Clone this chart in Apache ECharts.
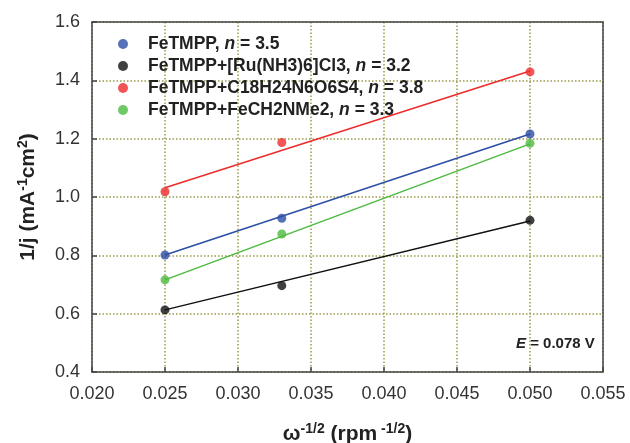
<!DOCTYPE html>
<html>
<head>
<meta charset="utf-8">
<script src="https://cdn.jsdelivr.net/npm/echarts@6/dist/echarts.min.js"></script>
<style>
  html, body { margin: 0; padding: 0; background: #fff; }
  #chart { width: 630px; height: 443px; }
</style>
</head>
<body>
<div id="chart"></div>
<script>
// 数据
const xValues = [0.025, 0.033, 0.05];
const seriesNames = ['FeTMPP', 'FeTMPP+[Ru(NH3)6]Cl3', 'FeTMPP+C18H24N6O6S4', 'FeTMPP+FeCH2NMe2'];
const nValues = ['3.5', '3.2', '3.8', '3.3'];
const blueY = [0.801, 0.927, 1.216];
const blackY = [0.613, 0.696, 0.920];
const redY = [1.018, 1.187, 1.429];
const greenY = [0.716, 0.873, 1.184];
// 拟合直线两端 (x = 0.025, 0.050)
const fitX = [0.025, 0.05];
const blueFit = [0.801, 1.216];
const blackFit = [0.613, 0.918];
const redFit = [1.032, 1.432];
const greenFit = [0.716, 1.182];

const colors = ['#2d4ea6', '#111111', '#ee2b2b', '#4cba40'];
const pointSets = [blueY, blackY, redY, greenY];
const fitSets = [blueFit, blackFit, redFit, greenFit];

const FONT = 'Liberation Sans';
const TEXT_COLOR = '#222';

const chart = echarts.init(document.getElementById('chart'));

const series = [];
fitSets.forEach((fit, i) => {
  series.push({
    name: seriesNames[i] + '-fit',
    type: 'line',
    data: fitX.map((x, k) => [x, fit[k]]),
    showSymbol: false,
    silent: true,
    lineStyle: { color: colors[i], width: 1.5 },
    z: 2
  });
});
pointSets.forEach((ys, i) => {
  series.push({
    name: seriesNames[i],
    type: 'scatter',
    data: xValues.map((x, k) => [x, ys[k]]),
    symbol: 'circle',
    symbolSize: 9,
    itemStyle: { color: colors[i] },
    z: 3
  });
});

const gridLine = { show: true, lineStyle: { color: '#9a9a48', type: [1.5, 2], width: 1.5 } };
const axisLine = { show: true, onZero: false, lineStyle: { color: '#444', width: 1.5 } };
const tick = { show: true, inside: true, length: 5, lineStyle: { color: '#444', width: 1.5 } };
// 轴标题（含上标）
const nameRich = {
  b: { fontFamily: FONT, fontWeight: 'bold', fontSize: 21, color: TEXT_COLOR, lineHeight: 24 },
  s: { fontFamily: FONT, fontWeight: 'bold', fontSize: 14, color: TEXT_COLOR, verticalAlign: 'top', lineHeight: 24 }
};
// 只画边框的轴
const frameAxis = {
  type: 'value',
  axisLine: axisLine,
  axisTick: { show: false },
  axisLabel: { show: false },
  splitLine: { show: false }
};

chart.setOption({
  animation: false,
  backgroundColor: '#fff',
  grid: { left: 92, right: 27, top: 22, bottom: 71, outerBoundsMode: 'none', containLabel: false },
  legend: {
    data: seriesNames,
    orient: 'vertical',
    left: 113,
    top: 30,
    icon: 'circle',
    itemWidth: 10,
    itemHeight: 10,
    itemGap: 4,
    formatter: name => {
      const i = seriesNames.indexOf(name);
      return '{b|' + name + ', }{i|n}{b| = ' + nValues[i] + '}';
    },
    textStyle: {
      padding: [0, 0, 0, 15],
      rich: {
        b: { fontFamily: FONT, fontWeight: 'bold', fontSize: 17.5, color: TEXT_COLOR, lineHeight: 18 },
        i: { fontFamily: FONT, fontWeight: 'bold', fontStyle: 'italic', fontSize: 17.5, color: TEXT_COLOR, lineHeight: 18 }
      }
    }
  },
  xAxis: [{
    type: 'value',
    min: 0.02,
    max: 0.055,
    interval: 0.005,
    axisLine: axisLine,
    axisTick: tick,
    splitLine: gridLine,
    axisLabel: {
      formatter: v => v.toFixed(3),
      fontFamily: FONT,
      fontSize: 18,
      color: '#333',
      margin: 13,
      showMaxLabel: true,
      showMinLabel: true
    },
    name: '{b|ω}{s|-1/2}{b| (rpm}{s| -1/2}{b|)}',
    nameLocation: 'middle',
    nameGap: 50,
    nameTextStyle: { rich: nameRich }
  }, Object.assign({ position: 'top', min: 0.02, max: 0.055 }, frameAxis)],
  yAxis: [{
    type: 'value',
    min: 0.4,
    max: 1.6,
    interval: 0.2,
    axisLine: axisLine,
    axisTick: tick,
    splitLine: gridLine,
    axisLabel: {
      formatter: v => v.toFixed(1),
      fontFamily: FONT,
      fontSize: 18,
      color: '#333',
      margin: 12
    },
    name: '{b|1/j (mA}{s|-1}{b|cm}{s|2}{b|)}',
    nameLocation: 'middle',
    nameGap: 52,
    nameRotate: 90,
    nameTextStyle: { rich: nameRich }
  }, Object.assign({ position: 'right', min: 0.4, max: 1.6 }, frameAxis)],
  graphic: [
    {
      type: 'text',
      left: 516,
      top: 336,
      style: {
        text: '{i|E}{b| = 0.078 V}',
        rich: {
          b: { fontFamily: FONT, fontWeight: 'bold', fontSize: 15, fill: TEXT_COLOR },
          i: { fontFamily: FONT, fontWeight: 'bold', fontStyle: 'italic', fontSize: 15, fill: TEXT_COLOR }
        }
      }
    }
  ],
  series: series
});
</script>
</body>
</html>
